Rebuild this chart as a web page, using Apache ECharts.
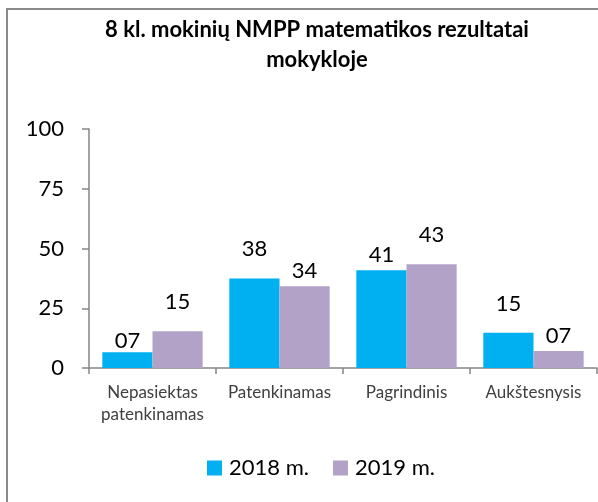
<!DOCTYPE html>
<html>
<head>
<meta charset="utf-8">
<script src="https://cdn.jsdelivr.net/npm/echarts@6/dist/echarts.min.js"></script>
<style>
html,body{margin:0;padding:0;background:#fff;}
#chart{width:598px;height:502px;}
</style>
</head>
<body>
<div id="chart"></div>
<script>
const titleText = "8 kl. mokinių NMPP matematikos rezultatai\nmokykloje";
const categories = ["Nepasiektas\npatenkinamas", "Patenkinamas", "Pagrindinis", "Aukštesnysis"];
const seriesNames = ["2018 m.", "2019 m."];
const values2018 = [6.6, 37.5, 40.9, 14.8];
const values2019 = [15.4, 34.2, 43.4, 7.1];
const yTicks = { min: 0, max: 100, interval: 25 };

// label distances (style only) to mimic placement in the reference
const labelDist2018 = [0, 18, 4, 18];
const labelDist2019 = [18, 4, 18, 4];

const FONT = "Lato, 'Open Sans', sans-serif";
const fmt = v => String(Math.round(v)).padStart(2, "0");

function buildData(vals, dists) {
  return vals.map((v, i) => ({ value: v, label: { distance: dists[i] } }));
}

const chart = echarts.init(document.getElementById("chart"), null, { renderer: "canvas" });
chart.setOption({
  animation: false,
  textStyle: { fontFamily: FONT },
  graphic: [{
    type: "rect",
    shape: { x: 7, y: 9, width: 700, height: 600 },
    style: { fill: "none", stroke: "#8a8a8a", lineWidth: 2 },
    silent: true, z: -10
  }],
  title: {
    text: titleText,
    left: 312,
    top: 10,
    textAlign: "center",
    textStyle: { fontFamily: FONT, fontSize: 22, fontWeight: "bold", color: "#000", lineHeight: 30 }
  },
  legend: {
    data: seriesNames,
    left: 202,
    top: 452,
    itemWidth: 15,
    itemHeight: 15,
    itemGap: 24,
    icon: "rect",
    textStyle: { fontFamily: FONT, fontSize: 22, color: "#000", padding: [0, 0, 0, 2] }
  },
  grid: { left: 89, right: 1, top: 129, bottom: 134, containLabel: false },
  xAxis: {
    type: "category",
    data: categories,
    axisLine: { lineStyle: { color: "#868686", width: 1.5 } },
    axisTick: { show: true, length: 6, lineStyle: { color: "#868686", width: 1.5 } },
    axisLabel: { fontFamily: FONT, fontSize: 17, color: "#404040", margin: 14, lineHeight: 22, interval: 0 }
  },
  yAxis: {
    type: "value",
    min: yTicks.min, max: yTicks.max, interval: yTicks.interval,
    splitLine: { show: false },
    axisLine: { show: true, lineStyle: { color: "#868686", width: 1.5 } },
    axisTick: { show: true, length: 7, lineStyle: { color: "#868686", width: 1.5 } },
    axisLabel: { fontFamily: FONT, fontSize: 22, color: "#000", margin: 25 }
  },
  series: [
    {
      name: seriesNames[0], type: "bar",
      data: buildData(values2018, labelDist2018),
      itemStyle: { color: "#00B0F0" },
      barGap: "0%", barCategoryGap: "21%",
      label: { show: true, position: "top", fontFamily: FONT, fontSize: 22, color: "#000", formatter: p => fmt(p.value) }
    },
    {
      name: seriesNames[1], type: "bar",
      data: buildData(values2019, labelDist2019),
      itemStyle: { color: "#B3A2C7" },
      barGap: "0%", barCategoryGap: "21%",
      label: { show: true, position: "top", fontFamily: FONT, fontSize: 22, color: "#000", formatter: p => fmt(p.value) }
    }
  ]
});
</script>
</body>
</html>
